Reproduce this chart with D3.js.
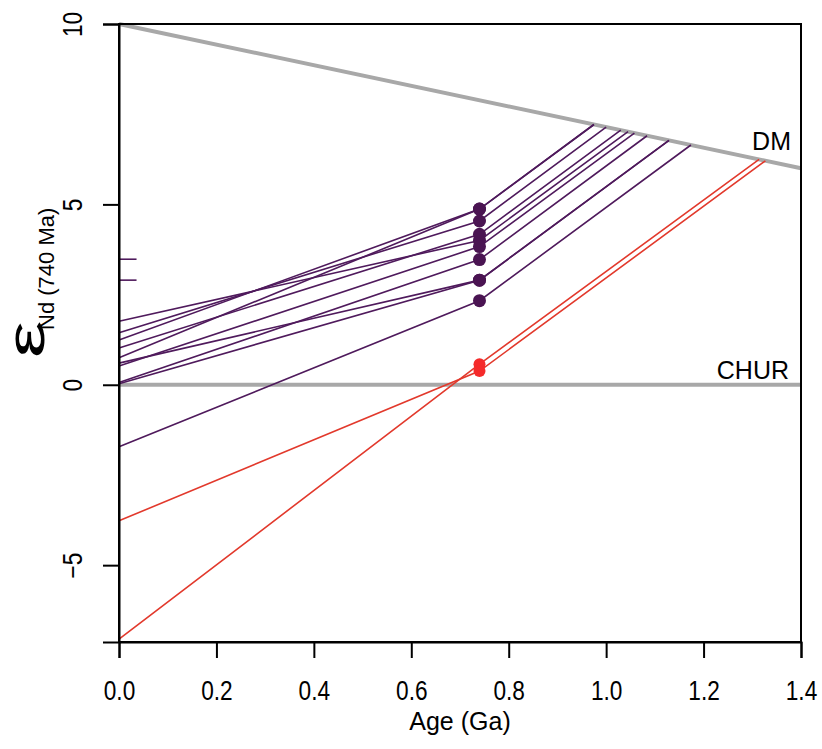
<!DOCTYPE html>
<html>
<head>
<meta charset="utf-8">
<script src="https://cdn.jsdelivr.net/npm/d3@7"></script>
<style>
  body { margin: 0; background: #fff; }
  text { font-family: "Liberation Sans", Arial, sans-serif; fill: #000; }
</style>
</head>
<body>
<div id="container"></div>
<script>
/** CONSTANTS AND GLOBALS */
const width = 822,
  height = 749,
  margin = { top: 24, bottom: 107, left: 119, right: 20 };

/** DATA */
const xTicks = [0, 0.2, 0.4, 0.6, 0.8, 1.0, 1.2, 1.4];
const yTicks = [-5, 0, 5, 10];

// reference curves
const dmAge = [0, 1.4];
const dmEps = [10, 6.0];
const churAge = [0, 1.4];
const churEps = [0, 0];

// purple samples: eps at 0, eps at 740 Ma, model age on DM (Ga)
const purpleEps0 = [1.76, 1.44, 1.24, 1.02, 0.75, 0.60, 0.52, 0.06, 0.03, -1.72];
const purpleEps740 = [4.00, 4.54, 4.87, 4.17, 4.87, 2.90, 3.83, 3.47, 2.90, 2.33];
const purpleTdm = [1.045, 1.0, 0.975, 1.03, 0.975, 1.129, 1.058, 1.084, 1.129, 1.174];

// red samples
const redEps0 = [-7.05, -3.77];
const redEps740 = [0.57, 0.38];
const redTdm = [1.314, 1.327];

// short marks on the y axis
const rugEps = [3.48, 2.90];
const rugLen = 0.036;

const sampleAge = 0.74;

const purple = "#4f1a5c",
  purpleDot = "#4a1452",
  red = "#e2392c",
  redDot = "#f52a2a",
  grey = "#a8a8a8";

/** SCALES */
const x = d3.scaleLinear().domain([0, 1.4]).range([margin.left, width - margin.right - 1]);
const y = d3.scaleLinear().domain([-7.13, 10]).range([642, margin.top]);
const dm = d3.scaleLinear().domain(dmAge).range(dmEps);

const svg = d3.select("#container")
  .append("svg")
  .attr("width", width)
  .attr("height", height);

const line = d3.line().x(d => x(d[0])).y(d => y(d[1]));

// reference lines
svg.append("path")
  .datum(d3.zip(dmAge, dmEps))
  .attr("d", line)
  .attr("fill", "none")
  .attr("stroke", grey)
  .attr("stroke-width", 4);

svg.append("path")
  .datum(d3.zip(churAge, churEps))
  .attr("d", line)
  .attr("fill", "none")
  .attr("stroke", grey)
  .attr("stroke-width", 4);

// evolution lines
function samples(eps0, eps740, tdm) {
  return eps0.map((e, i) => [
    [0, e],
    [sampleAge, eps740[i]],
    [tdm[i], dm(tdm[i])]
  ]);
}

svg.selectAll(".purple-line")
  .data(samples(purpleEps0, purpleEps740, purpleTdm))
  .join("path")
  .attr("class", "purple-line")
  .attr("d", line)
  .attr("fill", "none")
  .attr("stroke", purple)
  .attr("stroke-width", 1.6);

svg.selectAll(".red-line")
  .data(samples(redEps0, redEps740, redTdm))
  .join("path")
  .attr("class", "red-line")
  .attr("d", line)
  .attr("fill", "none")
  .attr("stroke", red)
  .attr("stroke-width", 1.6);

// rug marks
svg.selectAll(".rug")
  .data(rugEps)
  .join("line")
  .attr("class", "rug")
  .attr("x1", x(0))
  .attr("x2", x(rugLen))
  .attr("y1", d => y(d))
  .attr("y2", d => y(d))
  .attr("stroke", purple)
  .attr("stroke-width", 1.6);

// points
svg.selectAll(".purple-dot")
  .data(purpleEps740)
  .join("circle")
  .attr("class", "purple-dot")
  .attr("cx", x(sampleAge))
  .attr("cy", d => y(d))
  .attr("r", 6.5)
  .attr("fill", purpleDot);

svg.selectAll(".red-dot")
  .data(redEps740)
  .join("circle")
  .attr("class", "red-dot")
  .attr("cx", x(sampleAge))
  .attr("cy", d => y(d))
  .attr("r", 6)
  .attr("fill", redDot);

// box
svg.append("rect")
  .attr("x", x(0))
  .attr("y", y(10))
  .attr("width", x(1.4) - x(0))
  .attr("height", y(-7.13) - y(10))
  .attr("fill", "none")
  .attr("stroke", "#000")
  .attr("stroke-width", 2);

// x axis (labels a bit condensed, like the original)
const xAxis = svg.append("g")
  .attr("transform", `translate(0, ${y(-7.13)})`)
  .call(d3.axisBottom(x).tickValues(xTicks).tickSize(16).tickFormat(d3.format(".1f")))
  .attr("font-size", 27)
  .attr("font-family", "Liberation Sans, Arial, sans-serif");
xAxis.select(".domain").attr("stroke-width", 2);
xAxis.selectAll(".tick line").attr("stroke-width", 2);
xAxis.selectAll(".tick text")
  .attr("y", 0)
  .attr("dy", 0)
  .attr("transform", "translate(0, 58) scale(0.84, 1)");

// y axis
const yAxis = svg.append("g")
  .attr("transform", `translate(${x(0)}, 0)`)
  .call(d3.axisLeft(y).tickValues(yTicks).tickSize(16).tickFormat(d3.format("d")))
  .attr("font-size", 27)
  .attr("font-family", "Liberation Sans, Arial, sans-serif");
yAxis.select(".domain").attr("stroke-width", 2);
yAxis.selectAll(".tick line").attr("stroke-width", 2);
yAxis.selectAll(".tick text")
  .attr("x", 0)
  .attr("dy", 0)
  .attr("text-anchor", "middle")
  .attr("transform", "translate(-37, 0) rotate(-90) scale(0.84, 1)");

// labels
svg.append("text")
  .attr("x", (x(0) + x(1.4)) / 2)
  .attr("y", 730)
  .attr("text-anchor", "middle")
  .attr("font-size", 25)
  .text("Age (Ga)");

// y label: big epsilon, then subscript
svg.append("text")
  .attr("transform", "translate(44, 358) rotate(-90) scale(1.55, 1)")
  .attr("font-size", 54)
  .text("ε");

svg.append("text")
  .attr("transform", "translate(54, 330) rotate(-90)")
  .attr("font-size", 22)
  .text("Nd (740 Ma)");

svg.append("text")
  .attr("x", 791)
  .attr("y", 150)
  .attr("text-anchor", "end")
  .attr("font-size", 25)
  .text("DM");

svg.append("text")
  .attr("x", 789)
  .attr("y", 379)
  .attr("text-anchor", "end")
  .attr("font-size", 25)
  .text("CHUR");
</script>
</body>
</html>
